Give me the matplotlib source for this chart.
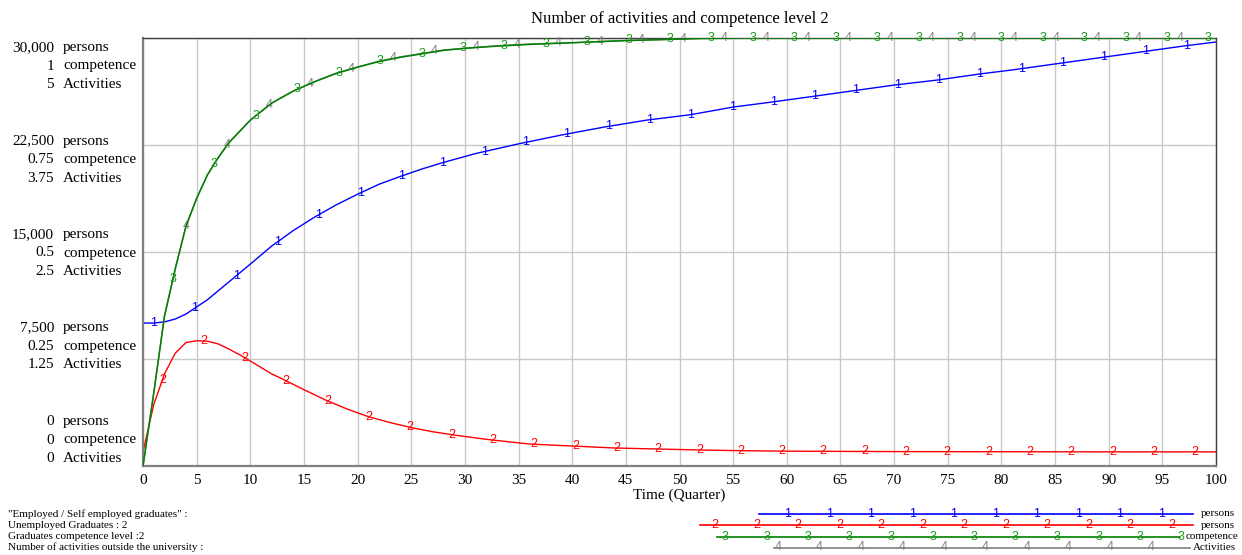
import numpy as np
import matplotlib
matplotlib.use("Agg")
import matplotlib.pyplot as plt

# ── data ─────────────────────────────────────────────────────────────────────
t_emp = [0, 1, 2, 3, 4, 5, 6, 8, 10, 12, 14, 16, 18, 20, 22, 24, 26, 28, 31, 35,
         39, 43, 47, 51, 55, 58, 62, 66, 70, 74, 78, 81, 85, 89, 93, 97, 100]
employed = [10020, 10020, 10100, 10300, 10650, 11150, 11650, 12900, 14150, 15420,
            16500, 17450, 18300, 19050, 19750, 20300, 20820, 21280, 21900, 22580,
            23200, 23760, 24250, 24620, 25160, 25450, 25860, 26280, 26700, 27050,
            27480, 27760, 28180, 28600, 29020, 29440, 29720]

t_unemp = [0, 1, 2, 3, 4, 5, 6, 7, 8, 9, 10, 12, 13, 15, 17, 19, 21, 23, 25, 27,
           29, 32, 36, 40, 44, 48, 52, 56, 60, 70, 80, 90, 100]
unemployed = [1000, 4300, 6450, 7900, 8650, 8780, 8750, 8560, 8200, 7800, 7360,
              6450, 6100, 5350, 4630, 4000, 3460, 3050, 2690, 2400, 2170, 1870,
              1540, 1400, 1260, 1190, 1120, 1070, 1040, 1010, 1000, 990, 990]

t_comp = [0, 1, 2, 3, 4, 5, 6, 7, 8, 10, 12, 14, 16, 18, 20, 22, 24, 26, 28, 30,
          33, 36, 39, 42, 45, 48, 52, 56, 100]
competence = [0, 0.17, 0.35, 0.46, 0.56, 0.625, 0.68, 0.72, 0.755, 0.808, 0.848,
              0.876, 0.898, 0.917, 0.932, 0.945, 0.955, 0.963, 0.971, 0.976, 0.981,
              0.985, 0.988, 0.991, 0.994, 0.996, 0.999, 1.0, 1.0]
activities = [0, 0.85, 1.75, 2.3, 2.8, 3.13, 3.4, 3.6, 3.78, 4.04, 4.24, 4.38, 4.49,
              4.59, 4.66, 4.73, 4.78, 4.82, 4.86, 4.88, 4.91, 4.93, 4.94, 4.955,
              4.97, 4.98, 4.995, 5.0, 5.0]

x_ticks = list(range(0, 101, 5))
persons_ticks = ["0", "7,500", "15,000", "22,500", "30,000"]
comp_ticks = ["0", "0.25", "0.5", "0.75", "1"]
act_ticks = ["0", "1.25", "2.5", "3.75", "5"]

legend_names = ['"Employed / Self employed graduates" :', "Unemployed Graduates : 2",
                "Graduates competence level :2",
                "Number of activities outside the university :"]
legend_units = ["persons", "persons", "competence", "Activities"]

# ── style ────────────────────────────────────────────────────────────────────
SERIF = "Liberation Serif"
SANS = "Liberation Sans"
BLUE, RED, GREEN, GREY = "#0000ff", "#ff0000", "#008000", "#808080"
MARK_GREEN = "#1a9a1a"
MARK_FS = 9
W, H = 1242, 555


def px(x, y):
    return x / W, 1 - y / H


def add_markers(ax, t, v, times, char, color):
    for tm in times:
        ax.text(tm, np.interp(tm, t, v), char, color=color, fontsize=MARK_FS,
                family=SANS, ha="center", va="center", zorder=5)


fig = plt.figure(figsize=(W / 100, H / 100), dpi=100)
l, b = px(143, 466)
r, tp = px(1216, 38)
ax = fig.add_axes([l, b, r - l, tp - b])
ax_a = ax.twinx()
ax_c = ax.twinx()

ax.set_xlim(0, 100)
ax.set_ylim(0, 30000)
ax_a.set_ylim(0, 5)
ax_c.set_ylim(0, 1)

ax.set_xticks(x_ticks)
ax.set_yticks(np.linspace(0, 30000, 5))
ax.set_yticklabels([])
ax.tick_params(axis="y", length=0)
ax.tick_params(axis="x", length=0, pad=6)
for lab in ax.get_xticklabels():
    lab.set_family(SERIF)
    lab.set_fontsize(11)
ax.grid(True, color="#c8c8c8", lw=1)
ax.set_axisbelow(True)
for a in (ax_a, ax_c):
    a.set_yticks([])
    a.axis("off")

for side in ("left", "bottom"):
    ax.spines[side].set_color("#808080")
    ax.spines[side].set_linewidth(1.6)
for side in ("top", "right"):
    ax.spines[side].set_color("#404040")
    ax.spines[side].set_linewidth(1.0)

ax.set_xlabel("Time (Quarter)", family=SERIF, fontsize=11, labelpad=1)
fig.text(0.5 * (l + r), px(0, 19)[1], "Number of activities and competence level 2",
         family=SERIF, fontsize=12, ha="center", va="center")

# ── series ───────────────────────────────────────────────────────────────────
ax.plot(t_emp, employed, color=BLUE, lw=1)
ax.plot(t_unemp, unemployed, color=RED, lw=1)
ax_a.plot(t_comp, activities, color=GREY, lw=1)
ax_c.plot(t_comp, competence, color=GREEN, lw=1.1)

add_markers(ax, t_emp, employed, np.arange(1, 100, 3.85), "1", BLUE)
add_markers(ax, t_unemp, unemployed, np.arange(1.8, 100, 3.85), "2", RED)
add_markers(ax_a, t_comp, activities, np.arange(4.0, 100.5, 3.86), "4", GREY)
add_markers(ax_c, t_comp, competence, np.arange(2.8, 100, 3.86), "3", MARK_GREEN)

# ── y labels: three units stacked per grid level ─────────────────────────────
centres = np.linspace(440, 66, 5)
for yc, p, c, a in zip(centres, persons_ticks, comp_ticks, act_ticks):
    for dy, num, unit in ((-18.5, p, "persons"), (0, c, "competence"), (18.5, a, "Activities")):
        fig.text(*px(54, yc + dy), num, family=SERIF, fontsize=11, ha="right", va="center")
        fig.text(*px(63, yc + dy), unit, family=SERIF, fontsize=11, ha="left", va="center")

# ── bottom legend ────────────────────────────────────────────────────────────
lax = fig.add_axes([0, 0, 1, 1])
lax.set_xlim(0, W)
lax.set_ylim(H, 0)
lax.axis("off")
lax.patch.set_alpha(0)

rows = [
    (514, 759, 1193, np.arange(788, 1170, 41.5), "1", BLUE, BLUE, 1201),
    (525, 700, 1193, np.arange(715, 1180, 41.5), "2", RED, RED, 1201),
    (536.5, 717, 1180, np.arange(725, 1190, 41.5), "3", GREEN, MARK_GREEN, 1186),
    (547.5, 774, 1190, np.arange(778, 1160, 41.5), "4", GREY, GREY, 1193),
]
for (y, x0, x1, marks, ch, col, mcol, ux), name, unit in zip(rows, legend_names, legend_units):
    lax.plot([x0, x1], [y, y], color=col, lw=1.2)
    for xm in marks:
        lax.text(xm, y, ch, color=mcol, fontsize=MARK_FS, family=SANS, ha="center", va="center")
    lax.text(ux, y, unit, family=SERIF, fontsize=8, ha="left", va="center")
    lax.text(8, y, name, family=SERIF, fontsize=8, ha="left", va="center")

fig.savefig("out.png", dpi=100)
